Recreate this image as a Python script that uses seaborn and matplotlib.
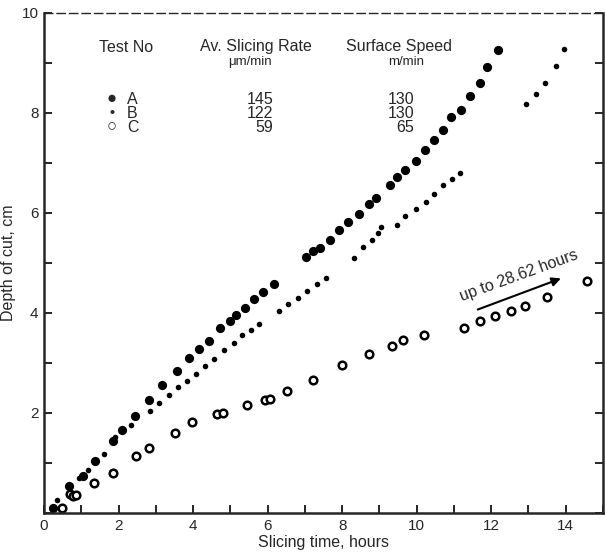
import numpy as np
import pandas as pd
import matplotlib
matplotlib.use('Agg')
import matplotlib.pyplot as plt
import seaborn as sns
from matplotlib.ticker import MultipleLocator, FuncFormatter

# Test A - large filled dots
a_time = [0.23, 0.66, 1.04, 1.38, 1.86, 2.10, 2.44, 2.83, 3.16, 3.58, 3.90, 4.17, 4.42,
          4.73, 4.98, 5.16, 5.40, 5.63, 5.88, 6.16,
          7.02, 7.22, 7.40, 7.67, 7.91, 8.16, 8.45, 8.72, 8.92, 9.28, 9.48, 9.70, 9.97,
          10.22, 10.47, 10.72, 10.91, 11.18, 11.43, 11.69, 11.90, 12.17]
a_depth = [0.11, 0.54, 0.74, 1.04, 1.44, 1.67, 1.94, 2.26, 2.57, 2.85, 3.11, 3.29, 3.45,
           3.71, 3.84, 3.96, 4.11, 4.28, 4.43, 4.59,
           5.13, 5.24, 5.31, 5.47, 5.66, 5.83, 5.99, 6.18, 6.31, 6.56, 6.73, 6.86, 7.05,
           7.26, 7.47, 7.67, 7.93, 8.07, 8.35, 8.61, 8.93, 9.27]

# Test B - small dots
b_time = [0.35, 0.93, 1.19, 1.62, 1.91, 2.34, 2.85, 3.08, 3.35, 3.60, 3.85, 4.08, 4.33,
          4.57, 4.82, 5.09, 5.31, 5.56, 5.78, 6.30, 6.55, 6.82, 7.07, 7.33, 7.58,
          8.31, 8.57, 8.79, 8.97, 9.03, 9.48, 9.70, 9.97, 10.24, 10.47, 10.72, 10.96, 11.16,
          12.93, 13.20, 13.44, 13.74, 13.96]
b_depth = [0.27, 0.71, 0.87, 1.19, 1.53, 1.76, 2.05, 2.20, 2.36, 2.53, 2.65, 2.78, 2.94,
           3.09, 3.27, 3.41, 3.57, 3.67, 3.78, 4.04, 4.18, 4.31, 4.45, 4.58, 4.71,
           5.10, 5.33, 5.47, 5.61, 5.73, 5.76, 5.94, 6.08, 6.23, 6.39, 6.56, 6.69, 6.81,
           8.19, 8.39, 8.61, 8.95, 9.29]

# Test C - open circles
c_time = [0.47, 0.71, 0.78, 0.85, 1.33, 1.86, 2.47, 2.82, 3.52, 3.96, 4.65, 4.80, 5.45,
          5.92, 6.06, 6.52, 7.22, 8.00, 8.72, 9.35, 9.64, 10.20, 11.26, 11.69, 12.10,
          12.53, 12.91, 13.50, 14.57]
c_depth = [0.11, 0.39, 0.34, 0.37, 0.61, 0.81, 1.14, 1.31, 1.61, 1.83, 1.99, 2.01, 2.16,
           2.26, 2.28, 2.45, 2.67, 2.96, 3.18, 3.34, 3.46, 3.56, 3.71, 3.85, 3.95,
           4.04, 4.15, 4.33, 4.65]

test_names = ['A', 'B', 'C']
slicing_rates = ['145', '122', '59']
surface_speeds = ['130', '130', '65']

df = pd.concat([
    pd.DataFrame({'time': a_time, 'depth': a_depth, 'test': 'A'}),
    pd.DataFrame({'time': b_time, 'depth': b_depth, 'test': 'B'}),
    pd.DataFrame({'time': c_time, 'depth': c_depth, 'test': 'C'}),
])

sns.set_style('ticks')
plt.rcParams['font.family'] = ['Liberation Sans', 'DejaVu Sans']

W, H = 605, 552
fig = plt.figure(figsize=(W / 100, H / 100), dpi=100)
ax = fig.add_axes([44 / W, 1 - 513 / H, (603 - 44) / W, (513 - 13) / H])

sns.scatterplot(data=df[df.test == 'A'], x='time', y='depth', ax=ax, s=44,
                color='black', edgecolor='black', linewidth=0, legend=False)
sns.scatterplot(data=df[df.test == 'B'], x='time', y='depth', ax=ax, s=16,
                color='black', edgecolor='black', linewidth=0, legend=False)
sns.scatterplot(data=df[df.test == 'C'], x='time', y='depth', ax=ax, s=30,
                facecolor='white', edgecolor='black', linewidth=1.8, legend=False)

ax.set_xlim(0, 15)
ax.set_ylim(0, 10)
ax.xaxis.set_major_locator(MultipleLocator(2))
ax.xaxis.set_minor_locator(MultipleLocator(1))
ax.yaxis.set_major_locator(MultipleLocator(2))
ax.yaxis.set_minor_locator(MultipleLocator(1))
ax.yaxis.set_major_formatter(FuncFormatter(lambda v, p: '' if v == 0 else f'{v:g}'))
ax.tick_params(which='both', direction='in', length=6, width=1.4,
               right=True, top=False, labelsize=11, pad=4)
for side in ['left', 'bottom', 'right']:
    ax.spines[side].set_linewidth(1.8)
ax.spines['top'].set_linestyle((0, (6, 3)))
ax.spines['top'].set_linewidth(1.0)

ax.set_xlabel('Slicing time, hours', fontsize=11.5, labelpad=2)
ax.set_ylabel('Depth of cut, cm', fontsize=11.5, labelpad=4)

# table-style legend
def ftext(x, y, s, size=11.5, **kw):
    fig.text(x / W, 1 - y / H, s, va='center', fontsize=size, **kw)

ftext(126, 47, 'Test No', ha='center')
ftext(256, 47, 'Av. Slicing Rate', ha='center')
ftext(250, 62, 'μm/min', size=9.5, ha='center')
ftext(399, 47, 'Surface Speed', ha='center')
ftext(406, 62, 'm/min', size=9.5, ha='center')

symbols = ['●', '•', '○']
sym_sizes = [12, 10, 12]
row_y = [99, 113, 127]
for i, name in enumerate(test_names):
    ftext(112, row_y[i], symbols[i], size=sym_sizes[i], ha='center', fontweight='bold')
    ftext(127, row_y[i], name, ha='left')
    ftext(273, row_y[i], slicing_rates[i], ha='right')
    ftext(414, row_y[i], surface_speeds[i], ha='right')

ax.annotate('', xy=(13.94, 4.71), xytext=(11.57, 4.05),
            arrowprops=dict(arrowstyle='-|>', lw=1.5, color='black', mutation_scale=13))
ax.text(12.75, 4.74, 'up to 28.62 hours', rotation=20, ha='center', va='center',
        rotation_mode='anchor', fontsize=11.5)

fig.savefig('out.png', dpi=100)
